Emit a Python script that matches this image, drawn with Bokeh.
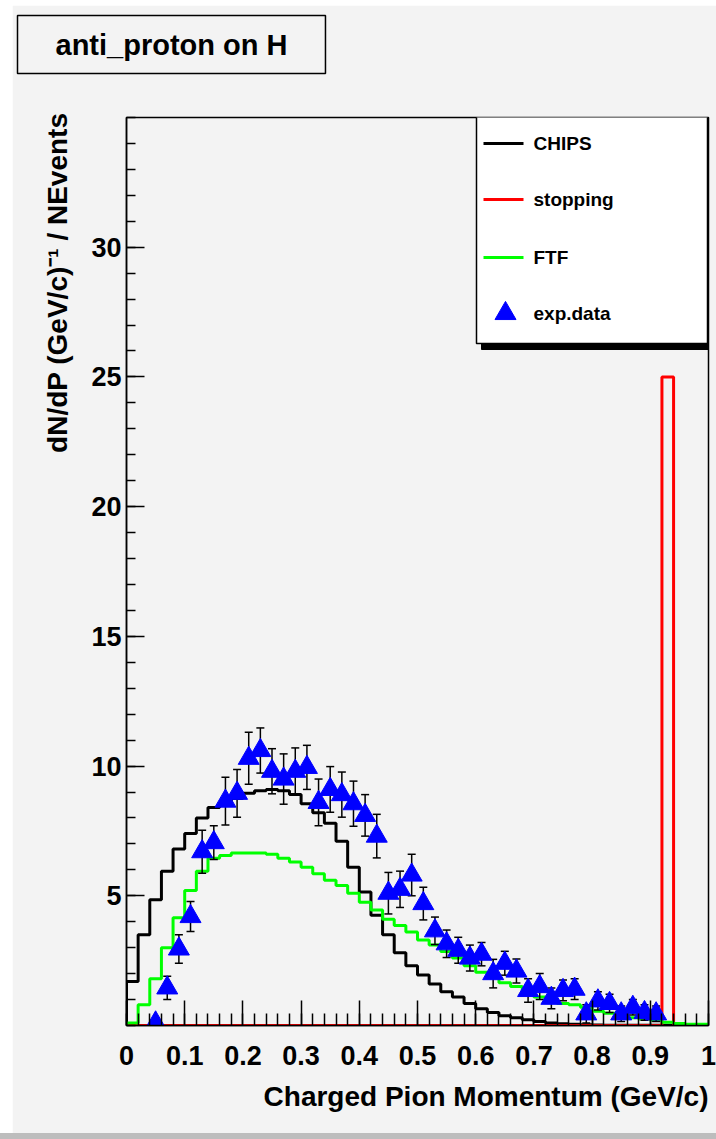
import numpy as np
from bokeh.plotting import figure
from bokeh.layouts import column, row
from bokeh.models import Range1d, FixedTicker, Title, Spacer
from bokeh.embed import file_html
from bokeh.resources import INLINE
from bokeh.core.properties import value

# ---------------- data ----------------
bin_edges = [round(0.02 * i, 2) for i in range(51)]

chips = [1.7, 3.5, 4.85, 5.95, 6.8, 7.4, 8.0, 8.4, 8.55, 8.75,
         8.95, 9.05, 9.1, 9.05, 8.9, 8.55, 8.2, 7.8, 7.1, 6.1,
         5.15, 4.25, 3.5, 2.8, 2.3, 1.95, 1.6, 1.3, 1.1, 0.85,
         0.65, 0.5, 0.38, 0.3, 0.22, 0.15, 0.1, 0.07, 0.05, 0.03,
         0.02, 0.01, 0.01, 0.01, 0.01, 0.01, 0.01, 0.01, 0.01, 0.01]

ftf = [0.1, 0.8, 1.8, 3.0, 4.15, 5.2, 5.95, 6.45, 6.55, 6.65,
       6.65, 6.65, 6.6, 6.45, 6.3, 6.1, 5.85, 5.6, 5.4, 5.1,
       4.75, 4.45, 4.1, 3.85, 3.6, 3.3, 3.1, 2.85, 2.6, 2.3,
       2.05, 1.85, 1.65, 1.5, 1.3, 1.1, 1.0, 0.85, 0.8, 0.7,
       0.55, 0.47, 0.4, 0.3, 0.25, 0.2, 0.13, 0.08, 0.05, 0.05]

stopping = [0.0] * 46 + [25.0] + [0.0] * 3

data_x = [0.05, 0.07, 0.09, 0.11, 0.13, 0.15, 0.17, 0.19, 0.21, 0.23,
          0.25, 0.27, 0.29, 0.31, 0.33, 0.35, 0.37, 0.39, 0.41, 0.43,
          0.45, 0.47, 0.49, 0.51, 0.53, 0.55, 0.57, 0.59, 0.61, 0.63,
          0.65, 0.67, 0.69, 0.71, 0.73, 0.75, 0.77, 0.79, 0.81, 0.83,
          0.85, 0.87, 0.89, 0.91]
data_y = [0.1, 1.45, 2.95, 4.2, 6.7, 7.05, 8.65, 8.95, 10.3, 10.6,
          9.8, 9.5, 9.8, 9.95, 8.6, 9.1, 8.9, 8.55, 8.1, 7.3,
          5.1, 5.25, 5.8, 4.7, 3.65, 3.15, 2.9, 2.6, 2.75, 2.0,
          2.4, 2.1, 1.35, 1.5, 1.05, 1.35, 1.4, 0.45, 0.95, 0.85,
          0.45, 0.7, 0.5, 0.45]
data_err = [0.1, 0.45, 0.55, 0.58, 0.83, 0.65, 0.92, 0.92, 1.0, 0.87,
            0.87, 0.97, 0.9, 0.85, 0.9, 0.88, 0.87, 0.87, 0.8, 0.84,
            0.8, 0.7, 0.8, 0.63, 0.53, 0.53, 0.5, 0.5, 0.45, 0.55,
            0.46, 0.46, 0.45, 0.5, 0.4, 0.4, 0.4, 0.35, 0.35, 0.35,
            0.3, 0.3, 0.3, 0.3]

x_ticks = [0, 0.1, 0.2, 0.3, 0.4, 0.5, 0.6, 0.7, 0.8, 0.9, 1]
x_tick_labels = ["0", "0.1", "0.2", "0.3", "0.4", "0.5", "0.6", "0.7", "0.8", "0.9", "1"]
x_minor = [round(0.02 * i, 2) for i in range(51)]
y_ticks = [5, 10, 15, 20, 25, 30]
y_tick_labels = ["5", "10", "15", "20", "25", "30"]
y_minor = list(range(36))

legend_labels = ["CHIPS", "stopping", "FTF", "exp.data"]
series_colors = ["#000000", "#ff0000", "#00ff00", "#0000ff"]

title_text = "anti_proton on H"
x_title = "Charged Pion Momentum (GeV/c)"
y_title = "dN/dP (GeV/c)\u207b\u00b9 / NEvents"

# ---------------- helpers ----------------
def hist_path(vals):
    xs = [bin_edges[0]]
    ys = [0.0]
    for i, v in enumerate(vals):
        xs += [bin_edges[i], bin_edges[i + 1]]
        ys += [v, v]
    xs.append(bin_edges[-1])
    ys.append(0.0)
    return xs, ys

BG = "#f3f3f3"
FONT = "Liberation Sans"

# page px -> data helpers for in-frame legend placement
PX_X = 582.0
PX_Y = 908.0 / 35.0
def dx(px):
    return (px - 126.0) / PX_X
def dy(py):
    return (1025.0 - py) / PX_Y

fig = figure(width=704, height=1128, x_range=Range1d(0, 1), y_range=Range1d(0, 35),
             output_backend="svg", toolbar_location=None, title=None,
             min_border_left=114, min_border_right=8, min_border_top=112,
             min_border_bottom=108, background_fill_color=BG, border_fill_color=BG,
             outline_line_color="black", outline_line_width=1.5)
fig.grid.visible = False

# axes
fig.xaxis.ticker = FixedTicker(ticks=x_ticks, minor_ticks=x_minor)
fig.xaxis.major_label_overrides = dict(zip(x_ticks, x_tick_labels))
fig.yaxis.ticker = FixedTicker(ticks=y_ticks, minor_ticks=y_minor)
fig.yaxis.major_label_overrides = dict(zip(y_ticks, y_tick_labels))
for ax in (fig.xaxis, fig.yaxis):
    ax.axis_line_width = 1.5
    ax.major_tick_line_width = 1.5
    ax.minor_tick_line_width = 1.5
    ax.major_tick_out = 0
    ax.minor_tick_out = 0
    ax.major_label_text_font = FONT
    ax.major_label_text_font_style = "bold"
    ax.major_label_text_font_size = "27px"
    ax.major_label_text_color = "black"
fig.xaxis.major_tick_in = 25
fig.xaxis.minor_tick_in = 12
fig.yaxis.major_tick_in = 18
fig.yaxis.minor_tick_in = 9
fig.xaxis.major_label_standoff = 20
fig.yaxis.major_label_standoff = 5

# histograms
for vals, col in ((chips, series_colors[0]), (stopping, series_colors[1]), (ftf, series_colors[2])):
    xs, ys = hist_path(vals)
    fig.line(xs, ys, line_color=col, line_width=3)

# data with error bars
dxa = np.array(data_x)
dya = np.array(data_y)
dea = np.array(data_err)
fig.segment(x0=dxa, y0=dya - dea, x1=dxa, y1=dya + dea, line_color="black", line_width=1.5)
fig.scatter(x=dxa, y=dya + dea, marker="dash", size=8, line_color="black", line_width=1.5)
fig.scatter(x=dxa, y=dya - dea, marker="dash", size=8, line_color="black", line_width=1.5)
fig.scatter(x=dxa, y=dya, marker="triangle", size=21, fill_color=series_colors[3],
            line_color=series_colors[3])

# legend (drawn ROOT style)
fig.quad(left=[dx(481)], right=[dx(716)], top=[dy(121)], bottom=[dy(349)],
         fill_color="black", line_color="black")
fig.quad(left=[dx(476)], right=[dx(707)], top=[dy(115)], bottom=[dy(343)],
         fill_color="white", line_color="black", line_width=1.5)
leg_y = [dy(143), dy(199), dy(257), dy(313)]
fig.segment(x0=[dx(483)] * 3, x1=[dx(523)] * 3, y0=leg_y[:3], y1=leg_y[:3],
            line_color=series_colors[:3], line_width=3)
fig.scatter(x=[dx(505)], y=[leg_y[3]], marker="triangle", size=21,
            fill_color=series_colors[3], line_color=series_colors[3])
fig.text(x=[dx(533)] * 4, y=leg_y, text=legend_labels, text_font=value(FONT),
         text_font_style="bold", text_font_size="19px", text_baseline="middle",
         text_color="black")

# axis titles (side-panel titles)
fig.add_layout(Title(text=x_title, align="right", text_font=FONT, text_font_style="bold",
                     text_font_size="28px", text_color="black", standoff=22), "below")
fig.add_layout(Title(text=y_title, align="right", offset=-5, text_font=FONT,
                     text_font_style="bold", text_font_size="28px", text_color="black",
                     standoff=32), "left")

# background-coloured spacer title next to the frame, then the main title box above it
fig.add_layout(Title(text=".", text_font=FONT, text_font_size="20px", text_color=BG,
                     standoff=28), "above")
fig.add_layout(Title(text=title_text, align="left", offset=-109, text_font=FONT,
                     text_font_style="bold", text_font_size="29px", text_color="black",
                     background_fill_color=BG, border_line_color="black",
                     border_line_width=1.5, padding=(38, 13), standoff=0), "above")

p = column(Spacer(width=716, height=5),
           row(Spacer(width=12, height=1128), fig),
           Spacer(width=716, height=6, styles={"background-color": "#bdbdbd"}))

open("out.html", "w").write(file_html(p, INLINE))
